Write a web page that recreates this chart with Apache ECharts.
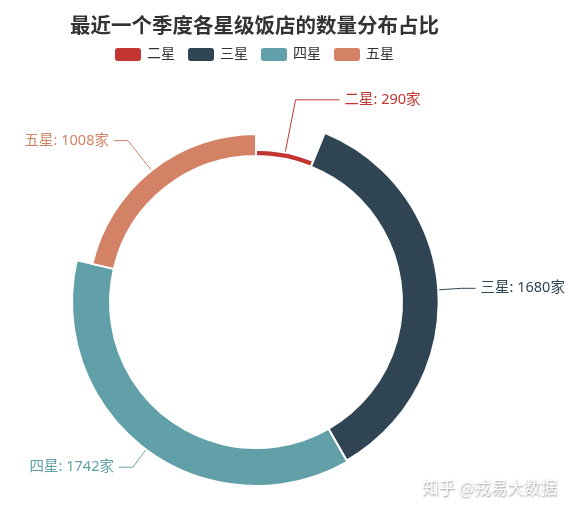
<!DOCTYPE html>
<html>
<head>
<meta charset="utf-8">
<title>星级饭店数量分布</title>
<script src="https://cdn.jsdelivr.net/npm/echarts@6/dist/echarts.min.js"></script>
<style>
  html, body { margin: 0; padding: 0; background: #fff; }
  #chart { width: 571px; height: 510px; }
</style>
</head>
<body>
<div id="chart"></div>
<script>
// 最近一个季度各星级饭店数量（家）
const categories = ['二星', '三星', '四星', '五星'];
const counts = [290, 1680, 1742, 1008];
const colors = ['#c23531', '#2f4554', '#61a0a8', '#d48265'];

const FONT = "'Noto Sans', 'Noto Sans CJK SC', sans-serif";

const chart = echarts.init(document.getElementById('chart'));
chart.setOption({
  animation: false,
  color: colors,
  textStyle: { fontFamily: FONT },
  title: {
    text: '最近一个季度各星级饭店的数量分布占比',
    left: 65,
    top: 12,
    textStyle: { fontSize: 20.5, fontWeight: 'bold', color: '#333', fontFamily: FONT }
  },
  legend: {
    data: categories,
    left: 108,
    top: 41,
    itemWidth: 28,
    itemHeight: 15,
    itemGap: 11,
    textStyle: { fontSize: 14, color: '#333', fontFamily: FONT }
  },
  graphic: [{
    type: 'text',
    right: 14,
    bottom: 14,
    style: {
      text: '知乎 @戎易大数据',
      fill: '#fff',
      font: "16.5px 'Noto Sans CJK SC', sans-serif",
      textShadowColor: 'rgba(0,0,0,0.45)',
      textShadowBlur: 2,
      textShadowOffsetX: 0.5,
      textShadowOffsetY: 0.5
    }
  }],
  series: [{
    type: 'pie',
    roseType: 'radius',
    center: [256, 302],
    radius: [146, 184],
    itemStyle: { borderColor: '#fff', borderWidth: 2 },
    label: {
      formatter: '{b}: {c}家',
      fontSize: 14.5,
      fontFamily: FONT,
      overflow: 'none'
    },
    labelLine: { length: 22, length2: 14, lineStyle: { width: 1 } },
    data: categories.map((name, i) => ({
      name: name,
      value: counts[i],
      label: { color: colors[i] },
      // 最小的一块横线拉长一点，文字离开顶部
      labelLine: {
        length2: i === 0 ? 44 : 14,
        lineStyle: { color: colors[i], width: 1 }
      }
    }))
  }]
});
</script>
</body>
</html>
